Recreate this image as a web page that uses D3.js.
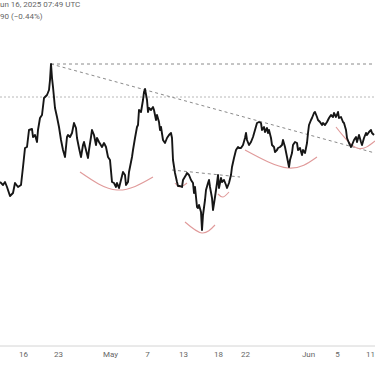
<!DOCTYPE html>
<html><head><meta charset="utf-8">
<script src="https://cdn.jsdelivr.net/npm/d3@7"></script>
<style>
html,body{margin:0;padding:0;background:#fff;overflow:hidden}
svg{display:block}
</style></head>
<body>
<script>
// ---- data ----
const bars = [0,3,5,7,10,13,15,18,21,23,25,27,29,32,33,35,37,38,40,42,44,47,49,50,51,52,53,55,57,59,61,63,65,67,68,70,72,74,76,77,79,81,83,84,86,88,89,91,92,94,96,97,99,102,104,106,108,110,112,114,116,117,119,121,123,125,126,128,129,132,133,135,137,138,139,141,143,144,145,147,148,149,151,153,154,156,157,159,160,161,163,165,167,169,171,172,173,175,177,178,180,182,183,186,187,189,191,193,194,195,197,198,199,201,202,203,205,206,208,209,210,212,213,215,217,218,219,221,222,224,226,227,229,231,232,234,236,238,239,241,243,245,246,247,249,251,253,255,257,259,261,262,264,265,267,268,269,271,272,274,275,277,278,280,282,283,285,286,287,289,290,292,293,295,297,298,300,302,303,305,307,308,309,311,312,314,315,317,318,320,322,323,325,327,329,331,333,334,336,338,339,341,343,344,346,347,349,351,352,354,356,357,359,361,362,364,366,367,369,371,372,374];
const closes = [3336,3330,3336,3326,3308,3314,3334,3326,3330,3366,3404,3406,3440,3442,3426,3430,3416,3440,3464,3470,3504,3510,3520,3540,3572,3544,3526,3484,3466,3446,3420,3400,3386,3426,3430,3426,3434,3454,3444,3424,3404,3386,3410,3416,3400,3384,3400,3426,3440,3430,3410,3424,3416,3406,3414,3406,3386,3380,3336,3334,3326,3334,3324,3340,3356,3350,3330,3336,3356,3386,3400,3424,3446,3450,3480,3476,3500,3516,3522,3500,3476,3484,3480,3486,3480,3460,3470,3456,3440,3446,3420,3414,3424,3430,3434,3424,3380,3354,3336,3328,3328,3326,3340,3350,3354,3350,3340,3334,3314,3326,3286,3284,3290,3276,3240,3270,3300,3320,3334,3340,3326,3304,3280,3306,3334,3350,3324,3344,3336,3340,3330,3324,3334,3350,3366,3384,3400,3406,3404,3404,3410,3424,3434,3420,3410,3416,3426,3440,3454,3456,3454,3440,3446,3436,3444,3434,3440,3424,3410,3406,3396,3400,3404,3406,3410,3420,3406,3396,3386,3366,3380,3394,3410,3416,3414,3400,3404,3390,3400,3394,3414,3434,3450,3460,3464,3474,3476,3466,3460,3456,3450,3454,3450,3456,3464,3470,3466,3474,3466,3476,3464,3466,3456,3454,3440,3424,3414,3406,3410,3420,3426,3416,3430,3416,3410,3424,3434,3430,3436,3440,3434,3430];

const tickBars   = [23, 58, 110, 147, 183, 218, 245, 308, 337, 370];
const tickLabels = ["16", "23", "May", "7", "13", "18", "22", "Jun", "5", "11"];

const headerLines = ["un 16, 2025 07:49 UTC", "90 (\u22120.44%)"];

// horizontal levels
const highLevel = {from: 51, to: 375, price: 3572};
const refLevel = 3506;
// trend lines [bar, price]
const trendMain = [[51, 3572], [375, 3394]];
const trendSupport = [[172, 3360], [240, 3346]];
// rounded-bottom arcs: [bar, price] start, bottom, end
const arcs = [
  [[80, 3356], [117, 3320], [153, 3346]],
  [[175, 3334], [180, 3326], [187, 3334]],
  [[185, 3256], [202, 3234], [215, 3250]],
  [[218, 3312], [223, 3306], [229, 3316]],
  [[245, 3400], [288, 3364], [317, 3386]],
  [[336, 3446], [357, 3404], [375, 3418]]
];

// ---- drawing ----
const W = 375, H = 366;
const svg = d3.select("body").append("svg").attr("width", W).attr("height", H);

const x = d3.scaleLinear().domain([0, 375]).range([0, W]);
const y = d3.scaleLinear().domain([3700, 2968]).range([0, H]);

// header
svg.selectAll("text.hdr").data(headerLines).join("text")
  .attr("class", "hdr")
  .attr("x", 0).attr("y", (d, i) => 7 + i * 12)
  .attr("font-family", "Roboto, 'Noto Sans', sans-serif")
  .attr("font-size", 8)
  .attr("fill", "#666")
  .text(d => d);

// reference level (full width, light dotted)
svg.append("line")
  .attr("x1", 0).attr("x2", W)
  .attr("y1", y(refLevel)).attr("y2", y(refLevel))
  .attr("stroke", "#b8b8b8").attr("stroke-width", 1)
  .attr("stroke-dasharray", "2,2");

// high level dashed
svg.append("line")
  .attr("x1", x(highLevel.from)).attr("x2", x(highLevel.to))
  .attr("y1", y(highLevel.price)).attr("y2", y(highLevel.price))
  .attr("stroke", "#8a8a8a").attr("stroke-width", 1)
  .attr("stroke-dasharray", "3,3");

const seg = d3.line().x(d => x(d[0])).y(d => y(d[1]));
[trendMain, trendSupport].forEach(t => {
  svg.append("path").attr("d", seg(t))
    .attr("fill", "none").attr("stroke", "#8a8a8a")
    .attr("stroke-width", 1).attr("stroke-dasharray", "3,3");
});

// arcs
const arcLine = d3.line().x(d => x(d[0])).y(d => y(d[1])).curve(d3.curveNatural);
svg.selectAll("path.arc").data(arcs).join("path")
  .attr("class", "arc")
  .attr("d", arcLine)
  .attr("fill", "none")
  .attr("stroke", "#e09a9a")
  .attr("stroke-width", 1.1);

// price line
const priceLine = d3.line().x((d, i) => x(bars[i])).y(d => y(d));
svg.append("path")
  .attr("d", priceLine(closes))
  .attr("fill", "none")
  .attr("stroke", "#161616")
  .attr("stroke-width", 1.9)
  .attr("stroke-linejoin", "round");

// time axis
const axisY = 346;
svg.append("line").attr("x1", 0).attr("x2", W).attr("y1", axisY).attr("y2", axisY)
  .attr("stroke", "#d4d4d4").attr("stroke-width", 1);

const axis = d3.axisBottom(x)
  .tickValues(tickBars)
  .tickFormat((d, i) => tickLabels[i])
  .tickSize(0).tickPadding(5);
const ax = svg.append("g").attr("transform", `translate(0,${axisY})`).call(axis);
ax.select(".domain").remove();
ax.selectAll("text")
  .attr("font-family", "Roboto, 'Noto Sans', sans-serif")
  .attr("font-size", 8)
  .attr("fill", "#666");
</script>
</body></html>
